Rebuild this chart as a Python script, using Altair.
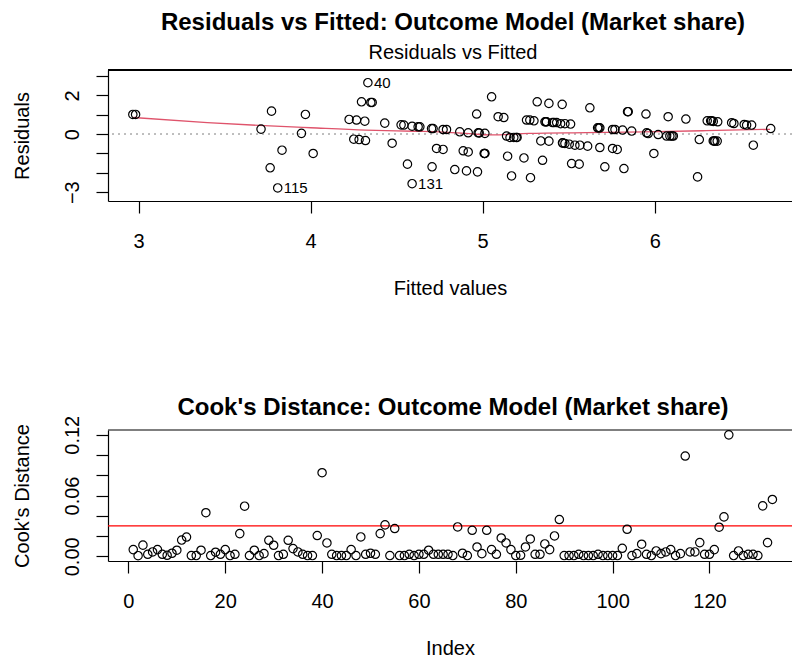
import altair as alt
import pandas as pd

FONT = "Liberation Sans"

# ---- Residuals vs fitted values of the outcome model ----
fitted = [
    2.967, 2.983, 3.712, 3.773, 3.834, 3.765, 3.809, 3.947, 3.970, 4.015,
    4.224, 4.267, 4.315, 4.296, 4.350, 4.358, 4.333, 4.251, 4.282, 4.319,
    4.431, 4.474, 4.526, 4.542, 4.590, 4.625, 4.635, 4.563, 4.590, 4.706,
    4.703, 4.712, 4.732, 4.770, 4.770, 4.790, 4.867, 4.916, 4.965, 4.974,
    5.013, 4.887, 4.916, 5.009, 5.013, 4.838, 4.906, 4.970, 5.052, 5.090,
    5.123, 5.139, 5.159, 5.181, 5.200, 5.145, 5.168, 5.240, 5.278, 5.255,
    5.274, 5.298, 5.317, 5.385, 5.462, 5.362, 5.371, 5.406, 5.430, 5.453,
    5.478, 5.511, 5.338, 5.385, 5.348, 5.464, 5.478, 5.503, 5.536, 5.565,
    5.610, 5.517, 5.561, 5.623, 5.681, 5.710, 5.668, 5.681, 5.755, 5.769,
    5.813, 5.866, 5.755, 5.782, 5.821, 5.842, 5.846, 5.949, 5.953, 5.962,
    6.020, 6.069, 6.088, 6.108, 5.995, 6.078, 6.181, 6.259, 6.249, 6.305,
    6.325, 6.340, 6.366, 6.340, 6.350, 6.363, 6.447, 6.460, 6.520, 6.534,
    6.563, 6.573, 6.674, 5.368, 5.415, 5.466, 6.100, 6.345, 5.011, 4.980,
    6.330, 5.675, 5.195,
]
resid = [
    1.02, 1.02, 0.26, 1.19, -0.83, -1.74, -2.78, 0.04, 1.02, -1.00,
    0.76, 0.73, 0.67, 1.67, 1.64, 1.64, 2.66, -0.26, -0.28, -0.33,
    0.57, -0.47, 0.48, 0.47, 0.41, 0.38, 0.38, -1.55, -2.56, -1.69,
    0.29, 0.29, -0.74, -0.79, 0.24, 0.24, 0.12, 0.07, 1.04, 0.07,
    0.04, -0.86, -0.92, -1.00, -1.00, -1.83, -1.90, -1.95, 1.93, 0.90,
    0.86, -0.10, -0.17, -0.17, -0.17, -1.14, -2.16, -1.23, -2.25, 0.73,
    0.73, 0.69, 1.67, 1.59, 1.54, 0.64, 0.64, 0.60, 0.60, 0.54,
    0.54, 0.52, -0.35, -0.36, -1.35, -0.45, -0.48, -0.52, -0.57, -0.57,
    -0.62, -1.52, -1.55, 1.36, -0.69, -1.69, 0.33, 0.33, 0.24, 0.24,
    0.21, 0.16, -0.74, -0.79, -1.78, 1.16, 1.16, 1.04, 0.07, 0.03,
    -0.02, -0.10, -0.10, -0.10, -1.00, 0.90, 0.78, -0.28, -2.21, 0.69,
    0.69, 0.66, 0.64, -0.35, -0.36, -0.36, 0.59, 0.55, 0.50, 0.47,
    0.47, -0.57, 0.29, 0.64, 0.60, -0.46, -0.10, -0.35, -1.00, 0.06,
    0.69, 0.33, -0.17,
]

# observations flagged with their row number
flag_id = ["40", "115", "131"]
flag_fitted = [4.333, 3.809, 4.590]
flag_resid = [2.66, -2.78, -2.56]

# scatterplot smoother through the residuals
smooth_fitted = [2.97, 3.40, 3.70, 4.00, 4.32, 4.60, 4.75, 4.90, 5.05, 5.27, 5.60, 5.94, 6.30, 6.67]
smooth_resid = [0.86, 0.60, 0.45, 0.33, 0.21, 0.15, 0.12, 0.04, -0.04, 0.04, 0.08, 0.12, 0.18, 0.25]

# ---- Cook's distance for each observation ----
cook_d = [
    0.0066, 0.0006, 0.0110, 0.0020, 0.0043, 0.0066, 0.0020, 0.0010, 0.0030, 0.0060,
    0.0160, 0.0190, 0.0007, 0.0007, 0.0060, 0.0430, 0.0007, 0.0040, 0.0020, 0.0066,
    0.0007, 0.0020, 0.0224, 0.0495, 0.0007, 0.0060, 0.0007, 0.0026, 0.0158, 0.0109,
    0.0007, 0.0020, 0.0158, 0.0076, 0.0043, 0.0020, 0.0007, 0.0007, 0.0205, 0.0825,
    0.0132, 0.0020, 0.0007, 0.0007, 0.0007, 0.0066, 0.0007, 0.0191, 0.0020, 0.0030,
    0.0020, 0.0224, 0.0310, 0.0007, 0.0274, 0.0007, 0.0007, 0.0020, 0.0007, 0.0020,
    0.0020, 0.0060, 0.0020, 0.0020, 0.0020, 0.0020, 0.0007, 0.0290, 0.0030, 0.0007,
    0.0257, 0.0092, 0.0026, 0.0257, 0.0066, 0.0020, 0.0181, 0.0132, 0.0066, 0.0007,
    0.0010, 0.0092, 0.0171, 0.0020, 0.0020, 0.0122, 0.0066, 0.0201, 0.0363, 0.0007,
    0.0007, 0.0007, 0.0020, 0.0007, 0.0007, 0.0007, 0.0020, 0.0007, 0.0007, 0.0007,
    0.0007, 0.0079, 0.0267, 0.0007, 0.0026, 0.0119, 0.0020, 0.0007, 0.0053, 0.0026,
    0.0043, 0.0066, 0.0007, 0.0026, 0.0990, 0.0043, 0.0043, 0.0135, 0.0020, 0.0020,
    0.0066, 0.0287, 0.0389, 0.1199, 0.0007, 0.0053, 0.0007, 0.0020, 0.0020, 0.0007,
    0.0498, 0.0135, 0.0561,
]
obs_index = list(range(1, len(cook_d) + 1))
cook_cutoff = [4 / len(cook_d)]

# axis tick positions and plot ranges
fit_ticks = [3, 4, 5, 6]
res_ticks = [-3, -2, -1, 0, 1, 2, 3]
idx_ticks = [0, 20, 40, 60, 80, 100, 120]
cook_ticks = [0.0, 0.02, 0.04, 0.06, 0.08, 0.10, 0.12]
fit_range = [2.8227, 6.7977]
res_range = [-3.456, 3.316]
idx_range = [-4.215, 137.05]
cook_range = [-0.00465, 0.1247]

W, H = 684, 131

resid_df = pd.DataFrame({"fitted": fitted, "resid": resid})
flag_df = pd.DataFrame({"fitted": flag_fitted, "resid": flag_resid, "id": flag_id})
smooth_df = pd.DataFrame({"fitted": smooth_fitted, "resid": smooth_resid})
cook_df = pd.DataFrame({"index": obs_index, "cook": cook_d})
cut_df = pd.DataFrame({"cut": cook_cutoff})


def x_axis(values, title):
    return alt.Axis(
        values=values, title=title, tickSize=12, labelPadding=28,
        labelBaseline="middle", labelAlign="center", titleY=87,
        titleBaseline="middle", labelFlush=False, labelOverlap=False,
    )


def y_axis(values, title, expr, fmt=None):
    kw = dict(
        values=values, title=title, tickSize=12, labelAngle=270,
        labelAlign="center", labelBaseline="middle", labelPadding=24,
        labelExpr=expr, titleX=-86, titleY=H / 2, titleAngle=270,
        titleAlign="center", titleBaseline="middle",
        labelFlush=False, labelOverlap=False,
    )
    if fmt:
        kw["format"] = fmt
    return alt.Axis(**kw)


fit_sc = alt.Scale(domain=fit_range, nice=False, zero=False)
res_sc = alt.Scale(domain=res_range, nice=False, zero=False)
fit_ax = x_axis(fit_ticks, "Fitted values")
res_ax = y_axis(res_ticks, "Residuals",
                "datum.value == 2 || datum.value == 0 || datum.value == -3 ? datum.label : ''")


def fx(field="fitted:Q"):
    return alt.X(field, scale=fit_sc, axis=fit_ax)


def ry(field="resid:Q"):
    return alt.Y(field, scale=res_sc, axis=res_ax)


zero_line = alt.Chart(resid_df).mark_rule(
    color="#BEBEBE", strokeDash=[1.5, 4.5], strokeWidth=1.1
).encode(y=alt.YDatum(0, scale=res_sc, axis=res_ax))

top_edge = alt.Chart(resid_df).mark_rule(color="black", strokeWidth=1.2).encode(
    y=alt.YDatum(res_range[1], scale=res_sc, axis=res_ax)
)

smooth = alt.Chart(smooth_df).mark_line(
    color="#DF536B", strokeWidth=1.3, interpolate="monotone"
).encode(x=fx(), y=ry())

points = alt.Chart(resid_df).mark_point(
    shape="circle", filled=False, size=70, strokeWidth=1.2, color="black", opacity=1
).encode(x=fx(), y=ry())

flags = alt.Chart(flag_df).mark_text(
    align="left", baseline="middle", dx=6, fontSize=15, font=FONT, color="black"
).encode(x=fx(), y=ry(), text="id:N")

top = alt.layer(zero_line, top_edge, smooth, points, flags).properties(
    width=W, height=H,
    title=alt.TitleParams(
        text="Residuals vs Fitted: Outcome Model (Market share)",
        subtitle="Residuals vs Fitted",
        fontSize=24, fontWeight="bold", font=FONT, color="black",
        subtitleFontSize=20, subtitleFont=FONT, subtitleColor="black",
        anchor="middle", frame="group", offset=6, subtitlePadding=8, dx=3,
    ),
)

idx_sc = alt.Scale(domain=idx_range, nice=False, zero=False)
cook_sc = alt.Scale(domain=cook_range, nice=False, zero=False)
idx_ax = x_axis(idx_ticks, "Index")
cook_ax = y_axis(cook_ticks, "Cook's Distance",
                 "datum.label == '0.00' || datum.label == '0.06' || datum.label == '0.12' ? datum.label : ''",
                 fmt=".2f")

cut_line = alt.Chart(cut_df).mark_rule(color="#FF0000", strokeWidth=1.2).encode(
    y=alt.Y("cut:Q", scale=cook_sc, axis=cook_ax)
)

cook_edge = alt.Chart(cut_df).mark_rule(color="black", strokeWidth=1.2).encode(
    y=alt.YDatum(cook_range[1], scale=cook_sc, axis=cook_ax)
)

cook_pts = alt.Chart(cook_df).mark_point(
    shape="circle", filled=False, size=70, strokeWidth=1.2, color="black", opacity=1
).encode(
    x=alt.X("index:Q", scale=idx_sc, axis=idx_ax),
    y=alt.Y("cook:Q", scale=cook_sc, axis=cook_ax),
)

bottom = alt.layer(cut_line, cook_edge, cook_pts).properties(
    width=W, height=H,
    title=alt.TitleParams(
        text="Cook's Distance: Outcome Model (Market share)",
        fontSize=24, fontWeight="bold", font=FONT, color="black",
        anchor="middle", frame="group", offset=-5, dx=3,
    ),
)

chart = alt.vconcat(top, bottom, spacing=229, bounds="flush").properties(
    autosize=alt.AutoSizeParams(type="none"),
    padding={"left": 108, "top": 70, "right": 0, "bottom": 588},
).configure_view(stroke=None).configure_axis(
    labelFont=FONT, titleFont=FONT, labelFontSize=20, titleFontSize=20,
    titleFontWeight="normal", labelColor="black", titleColor="black",
    domainColor="black", tickColor="black", domainWidth=1.2, tickWidth=1.2,
    grid=False,
)

chart.save("out.html", embed_options={"renderer": "svg", "actions": False})
